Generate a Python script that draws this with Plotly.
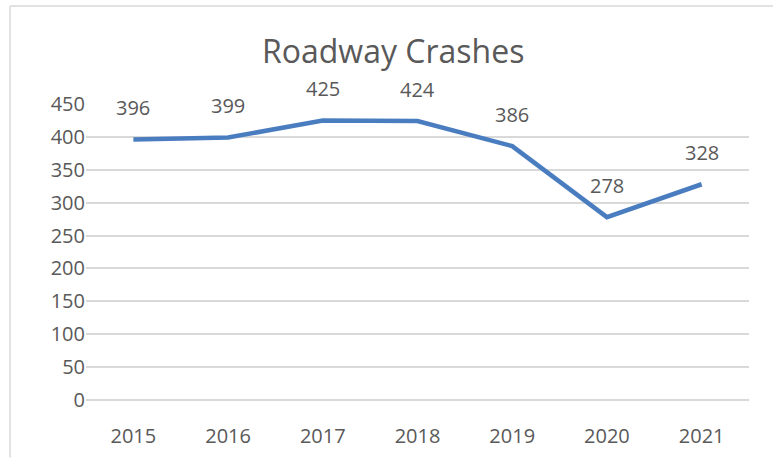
import plotly.graph_objects as go

years = ["2015", "2016", "2017", "2018", "2019", "2020", "2021"]
crashes = [396, 399, 425, 424, 386, 278, 328]
y_ticks = [0, 50, 100, 150, 200, 250, 300, 350, 400, 450]
title_text = "Roadway Crashes"

W, H = 773, 461
L, R, T, B = 86, 24, 104, 58
pw, ph = W - L - R, H - T - B

def px_x(x):
    return (x - L) / pw

def px_y(y):
    return (H - B - y) / ph

font_family = "Open Sans, DejaVu Sans, sans-serif"
grey = "#595959"
grid = "#D9D9D9"

fig = go.Figure()
fig.add_trace(go.Scatter(
    x=years, y=crashes, mode="lines",
    line=dict(color="#4A7DC0", width=4.5),
    hoverinfo="skip",
))

annotations = [
    dict(x=i, y=v, xref="x", yref="y", text=str(v), showarrow=False,
         yshift=32, font=dict(family=font_family, size=20, color=grey))
    for i, v in enumerate(crashes)
]
annotations.append(dict(
    x=px_x(393), y=px_y(50), xref="paper", yref="paper", text=title_text,
    showarrow=False, xanchor="center", yanchor="middle",
    font=dict(family=font_family, size=32, color=grey)))

shapes = [
    dict(type="line", xref="paper", yref="paper",
         x0=px_x(10), x1=px_x(773), y0=px_y(5), y1=px_y(5),
         line=dict(color=grid, width=1.5)),
    dict(type="line", xref="paper", yref="paper",
         x0=px_x(10), x1=px_x(10), y0=px_y(5), y1=px_y(461),
         line=dict(color=grid, width=1.5)),
]

fig.update_layout(
    width=W, height=H,
    margin=dict(l=L, r=R, t=T, b=B, pad=0),
    paper_bgcolor="white", plot_bgcolor="white",
    showlegend=False,
    annotations=annotations,
    shapes=shapes,
    xaxis=dict(type="category", range=[-0.5, 6.5], showgrid=False,
               showline=False, zeroline=False, ticks="", ticklen=0,
               tickfont=dict(family=font_family, size=20, color=grey),
               ticklabelstandoff=22, fixedrange=True),
    yaxis=dict(range=[0, 450], tickvals=y_ticks, showgrid=True,
               gridcolor=grid, gridwidth=1.5, zeroline=True,
               zerolinecolor=grid, zerolinewidth=1.5,
               showline=False, ticks="", ticklen=0,
               tickfont=dict(family=font_family, size=20, color=grey),
               ticklabelstandoff=0, fixedrange=True),
)

fig.write_html("out.html", config={"displayModeBar": False},
               post_script="document.body.style.margin='0';")
